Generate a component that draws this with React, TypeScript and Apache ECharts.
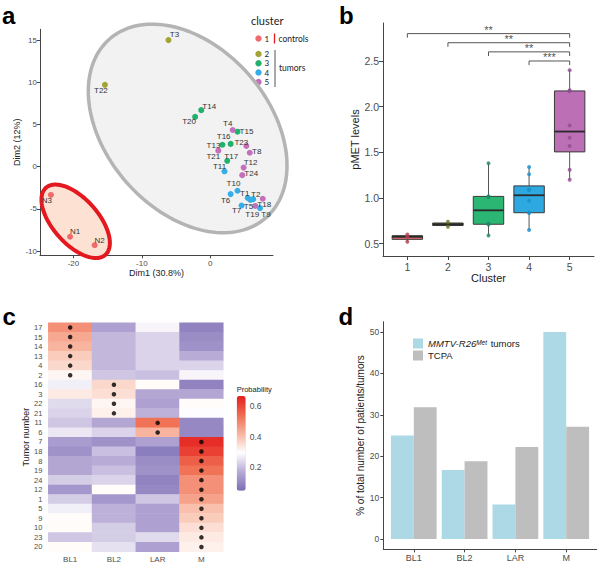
import React, { useEffect, useRef } from "react";
import * as echarts from "echarts";

// ---------- Panel a : PCA ----------
const pcaNames = ["T3","T22","T14","T20","T4","T15","T16","T13","T23","T21","T8","T17","T12","T24","T11","T10","T6","T1","T5","T19","T2","T18","T7","T9","N3","N1","N2"];
const pcaDim1 = [-6.1,-15.4,-1.3,-2.2,3.3,4.0,3.0,1.8,5.3,1.2,5.8,2.5,4.9,4.7,2.1,4.0,3.0,5.5,5.9,6.3,7.7,6.6,4.6,7.3,-23.3,-20.5,-16.9];
const pcaDim2 = [15.0,9.7,6.7,5.9,4.35,4.15,2.7,2.6,2.45,1.9,1.65,0.7,-0.1,-1.0,-0.55,-2.85,-3.25,-3.7,-3.95,-3.85,-3.8,-4.65,-4.6,-4.9,-3.35,-8.3,-9.3];
const pcaCluster = [2,2,3,3,5,3,3,3,5,5,5,3,5,5,4,4,4,4,4,4,5,5,4,4,1,1,1];
// label placement (style)
const pcaLabelDx = [6,-4,8,-6,-5,9,-7,-9,-5,-5,7,4,7,9,-5,-4,-5,-3,-2,-1,-7,9,-5,6,-4,5,5];
const pcaLabelDy = [-6,6,-4,5,-6,0,-7,1,-4,6,-1,-4,-5,-2,-5,-7,6,-4,6,15,-4,-1,5,6,6,-5,-5];
const clusterIds = [1,2,3,4,5];
const clusterColors = ["#ef6a6a","#a3a436","#21b16c","#35aee8","#c46fb9"];
// confidence ellipses: centre, conjugate semi-axes (data units)
const ellipseCx = [-3.29,-19.68];
const ellipseCy = [4.53,-6.47];
const ellipseUx = [11.43,4.35];
const ellipseUy = [-10.6,-3.97];
const ellipseVx = [8.99,2.48];
const ellipseVy = [6.35,1.78];
const ellipseFill = ["#f2f2f2","#fde2d4"];
const ellipseStroke = ["#b4b4b4","#e3191f"];

// ---------- Panel b : boxplot ----------
const boxPoints = [
  [0.52,0.575,0.60],
  [0.685,0.74],
  [0.59,0.71,0.72,1.01,1.02,1.38],
  [0.65,0.835,0.84,0.97,1.09,1.09,1.26,1.34],
  [1.20,1.31,1.57,1.66,1.795,2.17,2.18,2.40],
];
const boxFills = ["#ea6b6b","#808032","#2bb673","#2ea8e0","#bc6fb4"];
const boxPointColors = ["#b3414f","#77772a","#168d69","#1b8ec7","#8f4b90"];
const sigFrom = [1,2,3,4];
const sigTo = [5,5,5,5];
const sigY = [2.8,2.7,2.6,2.5];
const sigLabels = ["**","**","**","***"];

// ---------- Panel c : heatmap ----------
const tumorRows = ["17","15","14","13","4","2","16","3","22","21","11","6","7","18","8","19","24","12","1","5","9","10","23","20"];
const subtypes = ["BL1","BL2","LAR","M"];
const probBL1 = [0.48,0.44,0.42,0.38,0.36,0.31,0.27,0.33,0.24,0.23,0.21,0.26,0.14,0.12,0.16,0.16,0.22,0.13,0.22,0.27,0.30,0.30,0.21,0.30];
const probBL2 = [0.15,0.19,0.19,0.19,0.19,0.21,0.36,0.35,0.31,0.32,0.16,0.23,0.12,0.20,0.17,0.20,0.23,0.30,0.13,0.18,0.18,0.22,0.22,0.25];
const probLAR = [0.28,0.23,0.23,0.23,0.23,0.20,0.30,0.16,0.15,0.18,0.53,0.42,0.15,0.08,0.11,0.12,0.09,0.10,0.21,0.15,0.15,0.15,0.24,0.15];
const probM = [0.09,0.11,0.12,0.17,0.23,0.28,0.09,0.16,0.30,0.29,0.10,0.10,0.64,0.61,0.56,0.53,0.48,0.48,0.45,0.40,0.38,0.35,0.33,0.32];
const probTicks = [0.2,0.4,0.6];

// ---------- Panel d : bars ----------
const tnbcTypes = ["BL1","BL2","LAR","M"];
const mmtvPct = [25, 16.67, 8.33, 50];
const tcpaPct = [31.8, 18.8, 22.2, 27.1];
const mmtvName = "MMTV-R26Met tumors";
const tcpaName = "TCPA";

const AX = "'Liberation Sans', Arial, sans-serif";
const LEG = "Lato, 'Open Sans', sans-serif";
const axisCol = "#444";
const labCol = "#4d4d4d";

function q7(s: number[], p: number) {
  const h = (s.length - 1) * p;
  const lo = Math.floor(h), hi = Math.ceil(h);
  return s[lo] + (h - lo) * (s[hi] - s[lo]);
}

function buildOption() {
  const series: any[] = [];

  // ellipses
  series.push({
    type: "custom", xAxisIndex: 0, yAxisIndex: 0, clip: false, z: 1, silent: true,
    data: ellipseCx.map((c, i) => [c, ellipseCy[i], ellipseUx[i], ellipseUy[i], ellipseVx[i], ellipseVy[i]]),
    renderItem: (params: any, api: any) => {
      const i = params.dataIndex;
      const cx = api.value(0), cy = api.value(1), ux = api.value(2), uy = api.value(3), vx = api.value(4), vy = api.value(5);
      const pts: number[][] = [];
      for (let k = 0; k < 144; k++) {
        const t = (k / 144) * Math.PI * 2;
        pts.push(api.coord([cx + ux * Math.cos(t) + vx * Math.sin(t), cy + uy * Math.cos(t) + vy * Math.sin(t)]));
      }
      return { type: "polygon", shape: { points: pts }, style: { fill: ellipseFill[i], stroke: ellipseStroke[i], lineWidth: i === 0 ? 3.5 : 4 } };
    },
  });

  // PCA points
  clusterIds.forEach((cl, ci) => {
    const data: any[] = [];
    pcaNames.forEach((n, i) => {
      if (pcaCluster[i] !== cl) return;
      data.push({ name: n, value: [pcaDim1[i], pcaDim2[i]], label: { offset: [pcaLabelDx[i], pcaLabelDy[i]] } });
    });
    series.push({
      type: "scatter", name: "cluster " + cl, xAxisIndex: 0, yAxisIndex: 0, z: 3,
      symbolSize: 6, itemStyle: { color: clusterColors[ci], opacity: 1 },
      label: { show: true, position: "inside", formatter: "{b}", color: "#333", fontSize: 8, fontFamily: AX },
      data,
    });
  });

  // boxplot
  const boxData = boxPoints.map((pts, i) => {
    const s = [...pts].sort((a, b) => a - b);
    const q1 = q7(s, 0.25), med = q7(s, 0.5), q3 = q7(s, 0.75);
    const iqr = q3 - q1;
    const lo = s.filter((v) => v >= q1 - 1.5 * iqr)[0];
    const hiArr = s.filter((v) => v <= q3 + 1.5 * iqr);
    const hi = hiArr[hiArr.length - 1];
    return [clusterIds[i], lo, q1, med, q3, hi];
  });
  series.push({
    type: "custom", xAxisIndex: 1, yAxisIndex: 1, z: 2, silent: true,
    data: boxData,
    renderItem: (params: any, api: any) => {
      const i = params.dataIndex;
      const x = api.value(0), lo = api.value(1), q1 = api.value(2), med = api.value(3), q3 = api.value(4), hi = api.value(5);
      const hw = 0.375;
      const tl = api.coord([x - hw, q3]);
      const br = api.coord([x + hw, q1]);
      const ml = api.coord([x - hw, med]);
      const mr = api.coord([x + hw, med]);
      const ph = api.coord([x, hi]);
      const pl = api.coord([x, lo]);
      return {
        type: "group",
        children: [
          { type: "line", shape: { x1: ph[0], y1: ph[1], x2: ph[0], y2: tl[1] }, style: { stroke: "#555", lineWidth: 1 } },
          { type: "line", shape: { x1: pl[0], y1: pl[1], x2: pl[0], y2: br[1] }, style: { stroke: "#555", lineWidth: 1 } },
          { type: "rect", shape: { x: tl[0], y: tl[1], width: br[0] - tl[0], height: Math.max(br[1] - tl[1], 1) }, style: { fill: boxFills[i], stroke: "#3a3a3a", lineWidth: 1 } },
          { type: "line", shape: { x1: ml[0], y1: ml[1], x2: mr[0], y2: mr[1] }, style: { stroke: "#2a2a2a", lineWidth: 1.8 } },
        ],
      };
    },
  });
  boxPoints.forEach((pts, i) => {
    series.push({
      type: "scatter", xAxisIndex: 1, yAxisIndex: 1, z: 4, symbolSize: 4,
      itemStyle: { color: boxPointColors[i] },
      data: pts.map((v) => [clusterIds[i], v]),
    });
  });
  // significance brackets
  series.push({
    type: "custom", xAxisIndex: 1, yAxisIndex: 1, clip: false, z: 4, silent: true,
    data: sigFrom.map((f, i) => [f, sigY[i], sigTo[i]]),
    renderItem: (params: any, api: any) => {
      const x1 = api.value(0), y = api.value(1), x2 = api.value(2);
      const a = api.coord([x1, y - 0.045]);
      const b = api.coord([x1, y]);
      const c = api.coord([x2, y]);
      const d = api.coord([x2, y - 0.045]);
      return { type: "polyline", shape: { points: [a, b, c, d] }, style: { stroke: "#555", lineWidth: 1, fill: "none" } };
    },
  });
  series.push({
    type: "scatter", xAxisIndex: 1, yAxisIndex: 1, z: 5, symbol: "circle", symbolSize: 1, silent: true,
    itemStyle: { color: "rgba(0,0,0,0)" },
    data: sigFrom.map((f, i) => ({ value: [(f + sigTo[i]) / 2, sigY[i]], name: sigLabels[i] })),
    label: { show: true, position: "top", distance: 0, formatter: "{b}", color: "#222", fontSize: 11, fontFamily: AX, offset: [0, 2] },
  });

  // heatmap
  const heatData: number[][] = [];
  const dotData: number[][] = [];
  const probCols = [probBL1, probBL2, probLAR, probM];
  tumorRows.forEach((_, r) => {
    let best = 0;
    probCols.forEach((col, c) => {
      heatData.push([c, r, col[r]]);
      if (col[r] > probCols[best][r]) best = c;
    });
    dotData.push([best, r]);
  });
  const heatIndex = series.length;
  series.push({
    type: "heatmap", xAxisIndex: 2, yAxisIndex: 2, data: heatData, emphasis: { disabled: true }, itemStyle: { borderWidth: 0 },
  });
  series.push({
    type: "scatter", xAxisIndex: 2, yAxisIndex: 2, data: dotData, symbolSize: 4.5, itemStyle: { color: "#000" }, z: 5,
  });

  // bars
  series.push({
    type: "bar", name: mmtvName, xAxisIndex: 4, yAxisIndex: 4, barWidth: "45%", barGap: "0%",
    itemStyle: { color: "#add8e6" }, data: mmtvPct.map((v, i) => [i + 1, v]),
  });
  series.push({
    type: "bar", name: tcpaName, xAxisIndex: 4, yAxisIndex: 4, barWidth: "45%", barGap: "0%",
    itemStyle: { color: "#bebebe" }, data: tcpaPct.map((v, i) => [i + 1, v]),
  });

  const valAxis = (extra: any) => ({
    type: "value",
    axisLine: { show: true, onZero: false, lineStyle: { color: axisCol, width: 1 } },
    axisTick: { show: true, length: 3, lineStyle: { color: axisCol } },
    splitLine: { show: false },
    nameLocation: "middle",
    ...extra,
  });

  const grid = [
    { left: 40, top: 29.3, width: 233, height: 226 },
    { left: 383, top: 23, width: 211, height: 233 },
    { left: 48.3, top: 322.7, width: 175, height: 229 },
    { left: 236.7, top: 396, width: 9, height: 94.7 },
    { left: 383.3, top: 321.7, width: 213.4, height: 227.6 },
  ];

  const xAxis = [
    valAxis({
      gridIndex: 0, min: -24.9, max: 9.2,
      axisTick: { show: true, length: 3, lineStyle: { color: axisCol }, customValues: [-20, -10, 0] },
      axisLabel: { customValues: [-20, -10, 0], fontSize: 8, color: labCol, fontFamily: AX, margin: 4 },
      name: "Dim1 (30.8%)", nameGap: 10, nameTextStyle: { fontSize: 9, color: "#222", fontFamily: AX },
    }),
    valAxis({
      gridIndex: 1, min: 0.4, max: 5.6,
      axisTick: { show: true, length: 4, lineStyle: { color: axisCol }, customValues: clusterIds },
      axisLabel: { customValues: clusterIds, fontSize: 10.5, color: labCol, fontFamily: AX, margin: 5, formatter: (v: number) => String(v) },
      name: "Cluster", nameGap: 12, nameTextStyle: { fontSize: 11, color: "#222", fontFamily: AX },
    }),
    {
      type: "category", gridIndex: 2, data: subtypes,
      axisLine: { show: false }, axisTick: { show: false }, splitLine: { show: false },
      axisLabel: { fontSize: 8, color: labCol, fontFamily: AX, margin: 4, interval: 0 },
    },
    { type: "value", gridIndex: 3, show: false, min: 0, max: 1 },
    valAxis({
      gridIndex: 4, min: 0.4, max: 4.6,
      axisTick: { show: true, length: 3, lineStyle: { color: axisCol }, customValues: [1, 2, 3, 4] },
      axisLabel: { customValues: [1, 2, 3, 4], fontSize: 9, color: labCol, fontFamily: AX, margin: 4, formatter: (v: number) => tnbcTypes[Math.round(v) - 1] },
    }),
  ];

  const yAxis = [
    valAxis({
      gridIndex: 0, min: -10.5, max: 16.28,
      axisTick: { show: true, length: 3, lineStyle: { color: axisCol }, customValues: [-10, -5, 0, 5, 10, 15] },
      axisLabel: { customValues: [-10, -5, 0, 5, 10, 15], fontSize: 8, color: labCol, fontFamily: AX, margin: 3 },
      name: "Dim2 (12%)", nameGap: 18, nameTextStyle: { fontSize: 9, color: "#222", fontFamily: AX },
    }),
    valAxis({
      gridIndex: 1, min: 0.365, max: 2.916,
      axisTick: { show: true, length: 4, lineStyle: { color: axisCol }, customValues: [0.5, 1, 1.5, 2, 2.5] },
      axisLabel: { customValues: [0.5, 1, 1.5, 2, 2.5], fontSize: 10.5, color: labCol, fontFamily: AX, margin: 4, formatter: (v: number) => v.toFixed(1) },
      name: "pMET levels", nameGap: 22, nameTextStyle: { fontSize: 11, color: "#222", fontFamily: AX },
    }),
    {
      type: "category", gridIndex: 2, data: tumorRows, inverse: true,
      axisLine: { show: false }, axisTick: { show: false }, splitLine: { show: false },
      axisLabel: { fontSize: 7.5, color: labCol, fontFamily: AX, margin: 6, interval: 0 },
      name: "Tumor number", nameLocation: "middle", nameGap: 15, nameTextStyle: { fontSize: 9, color: "#222", fontFamily: AX },
    },
    {
      type: "value", gridIndex: 3, min: 0.047, max: 0.665, position: "right",
      axisLine: { show: false }, splitLine: { show: false },
      axisTick: { show: true, inside: true, length: 2, lineStyle: { color: "#fff" }, customValues: probTicks },
      axisLabel: { customValues: probTicks, fontSize: 8.5, color: labCol, fontFamily: AX, margin: 4, formatter: (v: number) => v.toFixed(1) },
    },
    valAxis({
      gridIndex: 4, min: -2.5, max: 52.5,
      axisTick: { show: true, length: 3, lineStyle: { color: axisCol }, customValues: [0, 10, 20, 30, 40, 50] },
      axisLabel: { customValues: [0, 10, 20, 30, 40, 50], fontSize: 8.5, color: labCol, fontFamily: AX, margin: 4 },
      name: "% of total number of patients/tumors", nameGap: 14, nameTextStyle: { fontSize: 10, color: "#222", fontFamily: AX },
    }),
  ];

  const legendYs = [38.5, 54, 63.3, 72.6, 82];
  const graphic: any[] = [
    { type: "text", x: 2, y: 27, style: { text: "a", font: `bold 24px ${AX}`, fill: "#000", verticalAlign: "bottom" } },
    { type: "text", x: 339, y: 27, style: { text: "b", font: `bold 24px ${AX}`, fill: "#000", verticalAlign: "bottom" } },
    { type: "text", x: 2.5, y: 328.5, style: { text: "c", font: `bold 24px ${AX}`, fill: "#000", verticalAlign: "bottom" } },
    { type: "text", x: 338.5, y: 328.5, style: { text: "d", font: `bold 24px ${AX}`, fill: "#000", verticalAlign: "bottom" } },
    { type: "text", x: 251, y: 20, style: { text: "cluster", font: `11px ${LEG}`, fill: "#222", verticalAlign: "middle" } },
    { type: "line", shape: { x1: 274.5, y1: 33.5, x2: 274.5, y2: 43.5 }, style: { stroke: "#e8191e", lineWidth: 1.3 } },
    { type: "text", x: 278.5, y: 38.5, style: { text: "controls", font: `8.5px ${LEG}`, fill: "#222", verticalAlign: "middle" } },
    { type: "line", shape: { x1: 275, y1: 50, x2: 275, y2: 87 }, style: { stroke: "#555", lineWidth: 1 } },
    { type: "text", x: 279, y: 68, style: { text: "tumors", font: `8.5px ${LEG}`, fill: "#222", verticalAlign: "middle" } },
    { type: "text", x: 236.7, y: 389, style: { text: "Probability", font: `7.5px ${AX}`, fill: "#222", verticalAlign: "middle" } },
  ];
  clusterIds.forEach((cl, i) => {
    graphic.push({ type: "circle", shape: { cx: 258.5, cy: legendYs[i], r: 3.2 }, style: { fill: clusterColors[i] } });
    graphic.push({ type: "text", x: 264.5, y: legendYs[i], style: { text: String(cl), font: `8px ${LEG}`, fill: "#222", verticalAlign: "middle" } });
  });

  return {
    animation: false,
    backgroundColor: "#fff",
    grid,
    xAxis,
    yAxis,
    visualMap: {
      type: "continuous", seriesIndex: heatIndex, min: 0.047, max: 0.665, calculable: false,
      orient: "vertical", left: 236.7, top: 396, itemWidth: 9, itemHeight: 94.7, padding: 0,
      text: null, showLabel: false,
      inRange: { color: ["#7b6db5", "#b8abd6", "#ffffff", "#f8b59f", "#ef6b50", "#e41d1c"] },
    },
    legend: {
      data: [mmtvName, tcpaName], left: 413, top: 338.5, orient: "vertical", padding: 0,
      itemWidth: 10, itemHeight: 10, itemGap: 1, icon: "rect", selectedMode: false,
      formatter: (n: string) => (n === mmtvName ? "{i|MMTV-R26}{s|Met}{n| tumors}" : "{n|" + n + "}"),
      textStyle: {
        color: "#1a1a1a", fontSize: 9.5, fontFamily: AX, lineHeight: 10,
        rich: {
          i: { fontStyle: "italic", fontSize: 9.5, fontFamily: AX, color: "#1a1a1a", lineHeight: 10 },
          s: { fontStyle: "italic", fontSize: 6.5, fontFamily: AX, color: "#1a1a1a", verticalAlign: "top", lineHeight: 10, padding: [0, 1, 4, 0] },
          n: { fontSize: 9.5, fontFamily: AX, color: "#1a1a1a", lineHeight: 10 },
        },
      },
    },
    graphic,
    series,
  };
}

export default function App() {
  const ref = useRef<HTMLDivElement>(null);
  useEffect(() => {
    const chart = echarts.init(ref.current!, null, { renderer: "svg" });
    chart.setOption(buildOption() as any);
    return () => chart.dispose();
  }, []);
  return (
    <div
      ref={ref}
      style={{ position: "fixed", left: 0, top: 0, width: 600, height: 565, background: "#fff" }}
    />
  );
}
